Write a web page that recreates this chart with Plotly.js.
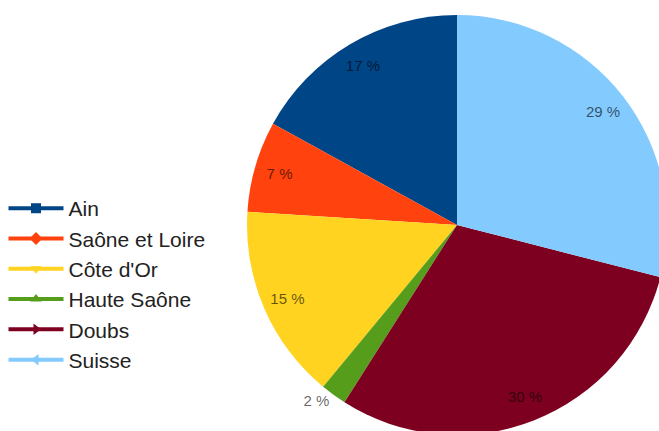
<!DOCTYPE html>
<html>
<head>
<meta charset="utf-8">
<script src="https://cdn.plot.ly/plotly-3.0.1.min.js"></script>
<style>
html, body { margin: 0; padding: 0; overflow: hidden; background: #fff; }
#chart { width: 700px; height: 450px; }
</style>
</head>
<body>
<div id="chart"></div>
<script>
// Data
const categories = ['Ain', 'Saône et Loire', "Côte d'Or", 'Haute Saône', 'Doubs', 'Suisse'];
const shares = [17, 7, 15, 2, 30, 29];
const colors = ['#004586', '#ff420e', '#ffd320', '#579d1c', '#7e0021', '#83caff'];
const symbols = ['square', 'diamond', 'triangle-down', 'triangle-up', 'triangle-right', 'triangle-left'];

const total = shares.reduce((a, b) => a + b, 0);
const labelsText = shares.map(v => Math.round(v / total * 100) + ' %');
// first slice should start at 12 o'clock and run counterclockwise
const rot = -shares[0] / total * 360;

const W = 700, H = 450;
const cx = 457, cy = 225, R = 210;
const domain = {
  x: [(cx - R) / W, (cx + R) / W],
  y: [1 - (cy + R) / H, 1 - (cy - R) / H]
};

const traces = [];
traces.push({
  type: 'pie',
  labels: categories,
  values: shares,
  sort: false,
  direction: 'counterclockwise',
  rotation: rot,
  domain: domain,
  marker: { colors: colors, line: { width: 0 } },
  textinfo: 'none',
  hoverinfo: 'label+percent',
  showlegend: false,
  automargin: false
});
traces.push({
  type: 'pie',
  labels: categories,
  values: shares,
  sort: false,
  direction: 'counterclockwise',
  rotation: rot,
  hole: 0.76,
  domain: domain,
  marker: { colors: categories.map(() => 'rgba(0,0,0,0)'), line: { width: 0 } },
  text: labelsText,
  textinfo: 'text',
  textposition: ['inside', 'inside', 'inside', 'outside', 'inside', 'inside'],
  insidetextorientation: 'horizontal',
  textfont: { family: 'Liberation Sans, Arial, sans-serif', size: 15, color: 'rgba(0,0,0,0.62)' },
  outsidetextfont: { family: 'Liberation Sans, Arial, sans-serif', size: 15, color: 'rgba(0,0,0,0.62)' },
  hoverinfo: 'skip',
  showlegend: false,
  automargin: false
});
categories.forEach((name, i) => {
  traces.push({
    type: 'scatter',
    mode: 'lines+markers',
    name: name,
    x: [null],
    y: [null],
    line: { color: colors[i], width: 4 },
    marker: { color: colors[i], symbol: symbols[i], size: 10 },
    hoverinfo: 'skip'
  });
});

const layout = {
  width: W,
  height: H,
  margin: { l: 0, r: 0, t: 0, b: 0 },
  paper_bgcolor: '#ffffff',
  plot_bgcolor: '#ffffff',
  xaxis: { visible: false },
  yaxis: { visible: false },
  showlegend: true,
  legend: {
    x: 0.005,
    xanchor: 'left',
    y: 1 - 284 / H,
    yanchor: 'middle',
    font: { family: 'Liberation Sans, Arial, sans-serif', size: 21, color: '#222' },
    itemwidth: 55,
    tracegroupgap: 0,
    bgcolor: 'rgba(0,0,0,0)'
  }
};

Plotly.newPlot('chart', traces, layout, { displayModeBar: false, staticPlot: true });
</script>
</body>
</html>
